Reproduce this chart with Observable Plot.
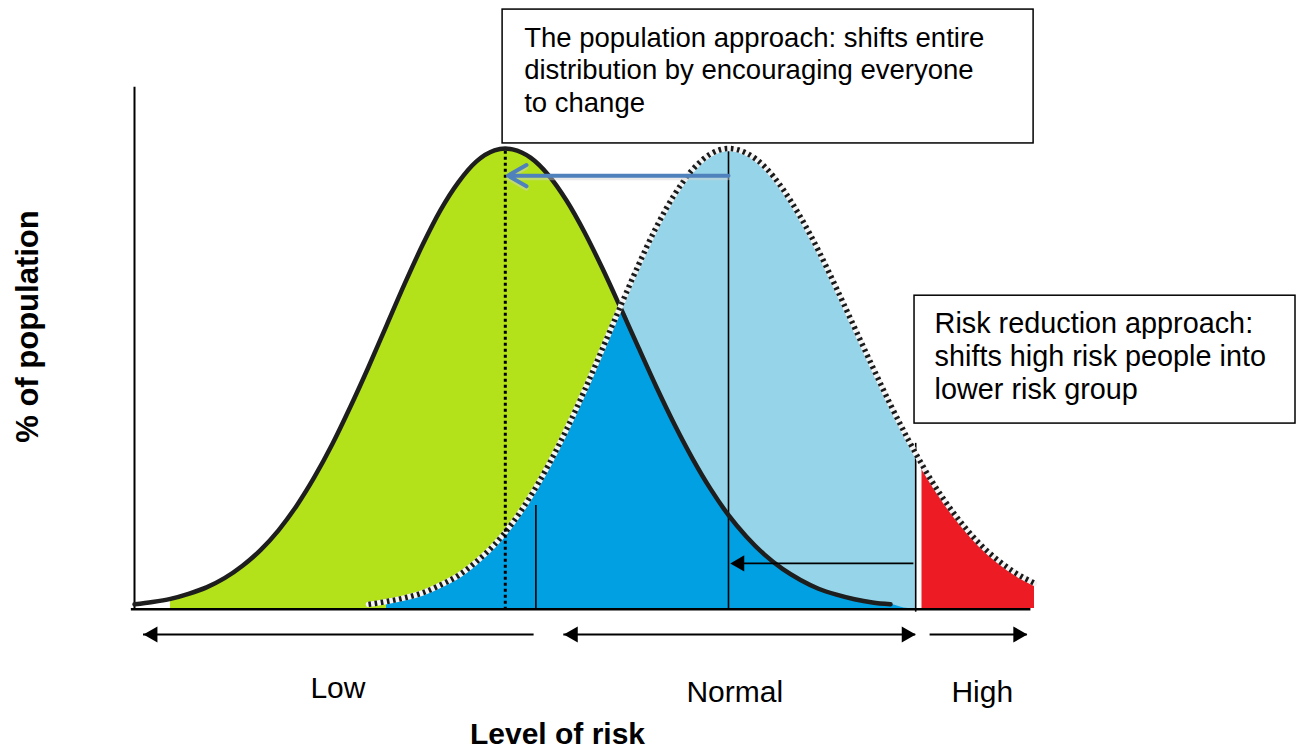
<!DOCTYPE html>
<html>
<head>
<meta charset="utf-8">
<script src="https://cdn.jsdelivr.net/npm/d3@7"></script>
<script src="https://cdn.jsdelivr.net/npm/@observablehq/plot@0.6"></script>
<style>
  html, body { margin: 0; padding: 0; background: #fff; }
</style>
</head>
<body>
<div id="chart"></div>
<script>
// ---- Data (risk level 0–100 on x, % of population 0–100 on y) ----
// Shifted distribution (after population approach) – solid outline
const greenX = [0,2,4,6,8,10,12,14,16,18,20,22,24,26,28,30,32,34,36,38,40,41.2,42,44,46,48,50,52,54,56,58,60,62,64,66,68,70,72,74,76,78,80,82,84];
const greenY = [0.9,1.4,2.1,3.2,4.6,6.6,9.3,12.7,17.0,22.3,28.6,35.8,43.9,52.5,61.5,70.5,79.0,86.6,92.7,97.2,99.6,100,99.8,98.0,94.2,88.7,81.8,73.9,65.4,56.7,48.1,40.0,32.6,26.0,20.3,15.6,11.7,8.6,6.2,4.3,3.0,2.0,1.3,0.9];
// Original distribution – dotted outline
const blueX = [26,28,30,32,34,36,38,40,42,44,46,48,50,52,54,56,58,60,62,64,66,68,70,72,74,76,78,80,82,84,86,86.8,87.5,88,90,92,94,96,98,100];
const blueY = [0.9,1.5,2.3,3.4,5.1,7.2,10.2,13.9,18.6,24.4,31.2,38.9,47.4,56.5,65.7,74.7,83.0,90.0,95.4,98.8,100,99.0,96.1,91.3,85.1,77.8,69.6,61.1,52.6,44.3,36.6,33.7,31.3,29.6,23.5,18.3,13.9,10.4,7.6,5.5];

// Key risk levels
const shiftedMean = 41.2;
const originalMean = 66;
const lowCut = 44.6;
const lowCutTop = 22.4;
const highCut = 86.8;
const highCutTop = 35.9;
const crossing = 54;

// Risk bands shown under the axis
const bandNames = ["Low", "Normal", "High"];
const bandStart = [1.0, 47.7, 88.4];
const bandEnd = [44.4, 86.8, 99.2];
const bandLabelX = [22.6, 66.7, 94.2];
const bandLabelY = [-19.35, -20.3, -20.3];
const bandHeadStart = [true, true, false];
const bandHeadEnd = [false, true, true];

// Annotation texts
const popText = "The population approach: shifts entire\ndistribution by encouraging everyone\nto change";
const riskText = "Risk reduction approach:\nshifts high risk people into\nlower risk group";
const xTitle = "Level of risk";
const yTitle = "% of population";

// ---- Build tables ----
const green = greenX.map((x, i) => ({x, y: greenY[i]}));
const blue = blueX.map((x, i) => ({x, y: blueY[i]}));
const greenAt = new Map(greenX.map((x, i) => [x, greenY[i]]));
const overlap = blue
  .filter(d => d.x >= 28 && d.x <= highCut)
  .map(d => ({x: d.x, y: Math.min(d.y, greenAt.has(d.x) ? greenAt.get(d.x) : 0)}));
const bands = bandNames.map((name, i) => ({
  name, x1: bandStart[i], x2: bandEnd[i], lx: bandLabelX[i], ly: bandLabelY[i],
  hs: bandHeadStart[i], he: bandHeadEnd[i]
}));
const bandY = -5.65;

const GREEN = "#b4e21a", DARKBLUE = "#00a0e3", LIGHTBLUE = "#96d5e9", RED = "#ed1c24";
const FONT = "'Liberation Sans', Arial, sans-serif";

const chart = Plot.plot({
  width: 1301,
  height: 751,
  marginLeft: 134,
  marginRight: 267,
  marginTop: 148,
  marginBottom: 143,
  x: {domain: [0, 100], axis: null},
  y: {domain: [0, 100], axis: null},
  style: {fontFamily: FONT, background: "#fff", color: "#000"},
  marks: [
    // fills
    Plot.areaY(green.filter(d => d.x >= 4 && d.x <= crossing), {x: "x", y: "y", fill: GREEN, curve: "monotone-x"}),
    Plot.areaY(blue.filter(d => d.x >= crossing && d.x <= highCut), {x: "x", y: "y", fill: LIGHTBLUE, curve: "monotone-x"}),
    Plot.areaY(overlap, {x: "x", y: "y", fill: DARKBLUE, curve: "monotone-x"}),
    Plot.areaY(blue.filter(d => d.x >= 87.5), {x: "x", y: "y", fill: RED, curve: "monotone-x"}),

    // axes lines
    Plot.ruleX([0], {y1: -0.4, y2: 113.3, stroke: "#000", strokeWidth: 2}),
    Plot.ruleY([-0.15], {x1: -0.35, x2: 99.6, stroke: "#000", strokeWidth: 2.5}),

    // vertical markers
    Plot.ruleX([lowCut], {y1: -0.4, y2: lowCutTop, stroke: "#000", strokeWidth: 1.6}),
    Plot.ruleX([originalMean], {y1: -0.4, y2: 100, stroke: "#000", strokeWidth: 1.6}),
    Plot.ruleX([highCut], {y1: -0.8, y2: highCutTop, stroke: "#000", strokeWidth: 1.6}),

    // curve outlines
    Plot.line(green, {x: "x", y: "y", stroke: "#1e1e1e", strokeWidth: 4.5, curve: "monotone-x"}),
    Plot.line(blue, {x: "x", y: "y", stroke: "#f4f4f4", strokeWidth: 5.5, curve: "monotone-x"}),
    Plot.line(blue, {x: "x", y: "y", stroke: "#1a1a1a", strokeWidth: 5.5, strokeDasharray: "2.6,3.6", strokeLinecap: "butt", strokeLinejoin: "miter", curve: "monotone-x"}),

    // dotted mean line of shifted distribution
    Plot.ruleX([shiftedMean], {y1: -0.4, y2: 100, stroke: "#000", strokeWidth: 3, strokeDasharray: "3,3"}),

    // population shift arrow (blue) with faint shadow
    Plot.arrow([{x1: originalMean, x2: 41.5, y: 94.1}], {x1: "x1", x2: "x2", y1: "y", y2: "y", stroke: "#d0d0d0", strokeWidth: 4, headLength: 8, dy: 2.5, strokeOpacity: 0.45}),
    Plot.arrow([{x1: originalMean, x2: 41.5, y: 94.1}], {x1: "x1", x2: "x2", y1: "y", y2: "y", stroke: "#4f81bd", strokeWidth: 4, headLength: 8}),

    // risk reduction arrow (black)
    Plot.ruleY([9.8], {x1: 66.6, x2: highCut - 0.2, stroke: "#000", strokeWidth: 1.8}),
    Plot.dot([{x: originalMean + 0.2, y: 9.8}], {x: "x", y: "y", symbol: "triangle", r: 6, fill: "#000", stroke: null, rotate: -90, dx: 9.3}),

    // band arrows under the axis
    Plot.ruleY(bands, {x1: "x1", x2: "x2", y: () => bandY, stroke: "#000", strokeWidth: 2}),
    Plot.dot(bands.filter(d => d.hs), {x: "x1", y: () => bandY, symbol: "triangle", r: 6, fill: "#000", stroke: null, rotate: -90, dx: 9.3}),
    Plot.dot(bands.filter(d => d.he), {x: "x2", y: () => bandY, symbol: "triangle", r: 6, fill: "#000", stroke: null, rotate: 90, dx: -9.3}),
    Plot.text(bands, {x: "lx", y: "ly", text: "name", fontSize: 30, textAnchor: "middle", lineAnchor: "bottom", fill: "#000"}),

    // axis titles
    Plot.text([xTitle], {x: 47.0, y: -29.35, fontSize: 30, fontWeight: "bold", textAnchor: "middle", lineAnchor: "bottom", fill: "#000"}),
    Plot.text([yTitle], {x: -10.7, y: 61.3, fontSize: 31, fontWeight: "bold", rotate: -90, textAnchor: "middle", lineAnchor: "bottom", fill: "#000"}),

    // annotation boxes
    Plot.rect([{x1: 40.9, x2: 99.9, y1: 101.1, y2: 130.2}], {x1: "x1", x2: "x2", y1: "y1", y2: "y2", fill: "#fff", stroke: "#000", strokeWidth: 1.5}),
    Plot.text([popText], {x: 43.3, y: 127.1, fontSize: 27.5, lineHeight: 1.18, textAnchor: "start", lineAnchor: "top", fill: "#000"}),
    Plot.rect([{x1: 86.67, x2: 129.0, y1: 40.2, y2: 68.0}], {x1: "x1", x2: "x2", y1: "y1", y2: "y2", fill: "#fff", stroke: "#000", strokeWidth: 1.5}),
    Plot.text([riskText], {x: 88.9, y: 64.9, fontSize: 28.8, lineHeight: 1.14, textAnchor: "start", lineAnchor: "top", fill: "#000"})
  ]
});
document.getElementById("chart").append(chart);
</script>
</body>
</html>
